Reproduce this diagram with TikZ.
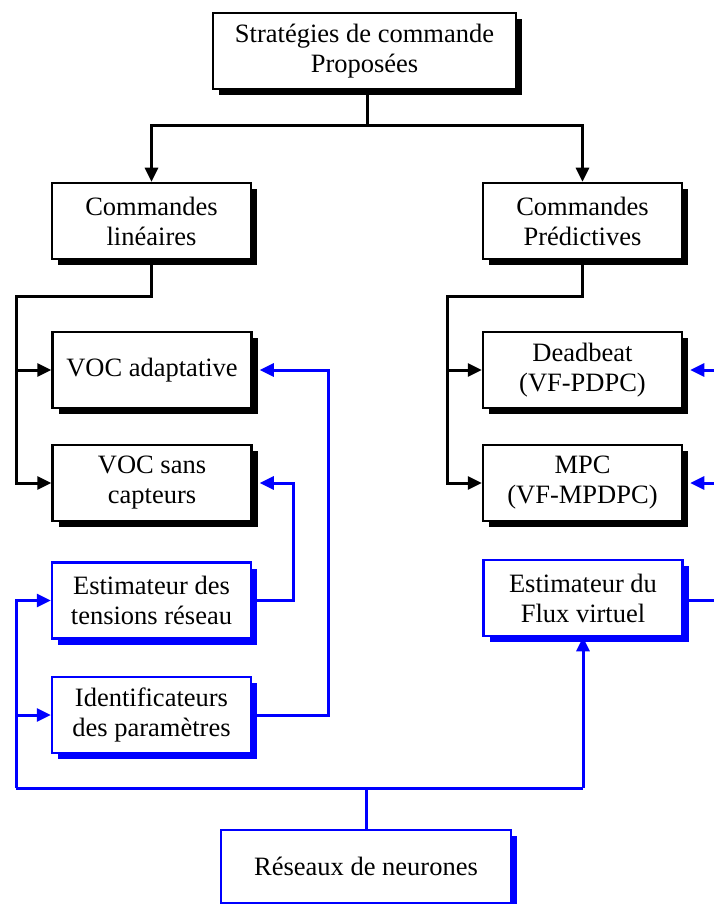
\documentclass[tikz,border=0pt]{standalone}
\usepackage{fontspec}
\setmainfont{Liberation Serif}
\usetikzlibrary{arrows.meta,shadows}
\begin{document}
\begin{tikzpicture}[x=1pt,y=-1pt,
  txt/.style={font=\fontsize{26.5}{30}\selectfont, align=center},
  bbox/.style={txt, draw=black, line width=2.5pt, fill=white, inner sep=0pt,
     minimum width=199pt, minimum height=76pt,
     general shadow={fill=black, shadow xshift=6pt, shadow yshift=-6pt}},
  bluebox/.style={bbox, draw=blue, general shadow={fill=blue, shadow xshift=6pt, shadow yshift=-6pt}},
  kline/.style={draw=black, line width=3pt},
  bline/.style={draw=blue, line width=3pt},
  tip/.style={-{Triangle[length=14pt,width=13pt]}}
]
\useasboundingbox (0,0) rectangle (714,904);
\clip (0,0) rectangle (714,904);

% nodes
\node[bbox, minimum width=303pt] (top) at (364.5,51) {Stratégies de commande\\Proposées};
\node[bbox] (lin) at (151.5,221) {Commandes\\linéaires};
\node[bbox] (pred) at (582.5,221) {Commandes\\Prédictives};
\node[bbox] (vocA) at (152,370) {VOC adaptative};
\node[bbox] (vocS) at (152,483) {VOC sans\\capteurs};
\node[bbox] (dead) at (582.5,370) {Deadbeat\\(VF-PDPC)};
\node[bbox] (mpc) at (582.5,483) {MPC\\(VF-MPDPC)};
\node[bluebox] (estT) at (151.5,600.5) {Estimateur des\\tensions réseau};
\node[bluebox] (ident) at (151.5,715) {Identificateurs\\des paramètres};
\node[bluebox] (flux) at (583,598) {Estimateur du\\Flux virtuel};
\node[bluebox, minimum width=290pt, minimum height=73pt] (res) at (366,866.5) {Réseaux de neurones};

% black connectors
\coordinate (tj) at (367,126);
\draw[kline] (tj |- top.south) -- (tj);
\draw[kline, tip] (tj) -| (lin.north);
\draw[kline, tip] (tj) -| (pred.north);

\coordinate (lj) at (151.5,296);
\coordinate (lc) at (16,296);
\coordinate (la) at (16,370);
\draw[kline, tip] (lin.south) -- (lj) -- (lc) |- (vocS.west);
\draw[kline, tip] (la) -- (vocA.west);

\coordinate (rj) at (582.5,296);
\coordinate (rc) at (447,296);
\coordinate (ra) at (447,370);
\draw[kline, tip] (pred.south) -- (rj) -- (rc) |- (mpc.west);
\draw[kline, tip] (ra) -- (dead.west);

% blue connectors
\coordinate (e1) at (293,600.5);
\draw[bline, tip, shorten >=7pt] (estT.east) -- (e1) |- (vocS.east);
\coordinate (e2) at (328,715);
\draw[bline, tip, shorten >=7pt] (ident.east) -- (e2) |- (vocA.east);

\coordinate (redA) at (720,370);
\coordinate (redB) at (720,483);
\coordinate (redC) at (720,600);
\draw[bline, tip, shorten >=7pt] (redA) -- (dead.east);
\draw[bline, tip, shorten >=7pt] (redB) -- (mpc.east);
\draw[bline] (flux.east |- redC) -- (redC);

\coordinate (bj) at (366,788);
\coordinate (bl) at (16,788);
\coordinate (br) at (583,788);
\coordinate (bm) at (16,715);
\draw[bline] (res.north) -- (bj);
\draw[bline] (bl) -- (br);
\draw[bline, tip] (bl) |- (estT.west);
\draw[bline, tip] (bm) -- (ident.west);
\draw[bline, tip] (br) -- (flux.south);
\end{tikzpicture}
\end{document}
